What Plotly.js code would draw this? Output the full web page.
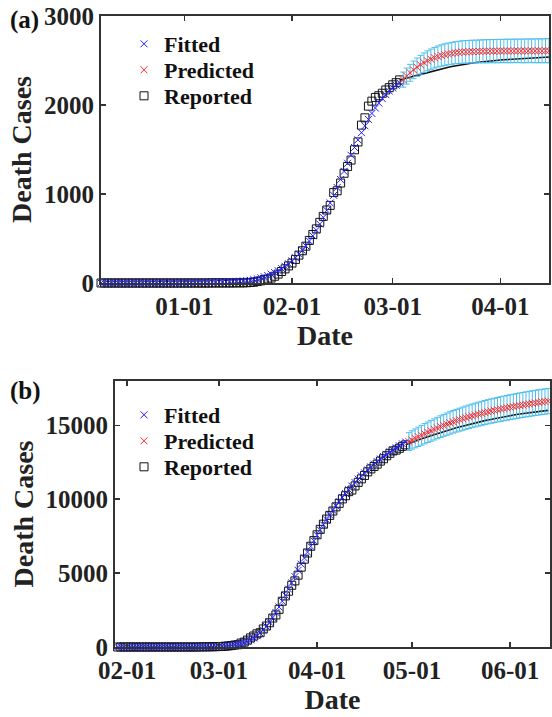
<!DOCTYPE html>
<html>
<head>
<meta charset="utf-8">
<script src="https://cdn.plot.ly/plotly-3.0.1.min.js"></script>
<style>
  html, body { margin: 0; padding: 0; background: #fff; }
  #chart { width: 552px; height: 717px; }
</style>
</head>
<body>
<div id="chart"></div>
<script>
// ---------- Panel (a): daily cumulative deaths ----------
const aStart = '2019-12-08';          // first day of reported / fitted series
const aPredStart = '2020-03-04';      // first day of the prediction window
const aLateStart = '2020-03-03';      // reported series after the fitting window

const aReported = [
  0,0,0,0,0,0,0,0,0,0,0,0,0,0,0,0,0,0,0,0,0,0,0,0,
  0,0,0,0,0,0,0,0,1,1,1,1,1,1,1,2,2,2,3,6,9,17,24,39,45,56,76,100,129,159,192,
  224,265,313,362,414,478,545,608,681,748,820,872,1016,1036,1123,1233,1309,1381,1497,1585,
  1774,1856,1987,2043,2085,2104,2132,2169,2195,
  2227,2251,2282
];
const aFitted = [
  0,0,0,0,0,0,0,0,0,0,1,1,1,1,1,1,1,2,2,2,2,2,2,3,
  3,3,4,4,5,5,6,7,8,9,10,11,12,14,16,18,20,23,26,
  30,38,47,58,70,84,100,118,138,161,187,216,
  248,284,324,368,417,471,530,594,663,737,816,899,985,1073,1163,1254,1345,1435,1523,1608,
  1689,1766,1838,1905,1966,2022,2072,2117,2157,
  2192,2223,2250
];
const aPredicted = [
  2285,2325,2362,2395,2425,2452,2476,2497,2515,2531,
  2545,2556,2566,2574,2581,2587,2591,2595,
  2597,2599,2600,2601,2602,2603,2604,2605,
  2605,2606,2606,2607,
  2607,2607,2608,2608,2608,2608,2609,2609,2609,2609,2609,2610,2610
];
const aPredErr = [
  85,90,95,99,103,106,109,112,114,116,
  118,120,121,122,123,124,125,126,127,127,
  128,128,129,129,130,130,130,131,131,131,
  132,132,132,132,133,133,133,133,134,134,
  134,135,135
];
const aReportedLate = [
  2282,2290,2300,2311,2322,2333,2344,2355,2366,2377,
  2387,2397,2406,2415,2424,2432,2440,2447,2454,
  2460,2466,2472,2477,2482,2487,2491,2495,2499,2502,
  2505,2508,2511,2514,2517,2520,2522,2524,2526,2528,2530,2532,2534,2536,2538
];
const aTickDates = ['2020-01-01','2020-02-01','2020-03-01','2020-04-01'];
const aTickText = ['01-01','02-01','03-01','04-01'];
const aYTicks = [0, 1000, 2000, 3000];
const aYTickText = ['0', '1000', '2000', '3000'];

// ---------- Panel (b) ----------
const bStart = '2020-01-28';
const bPredStart = '2020-04-30';
const bLateStart = '2020-04-29';

const bReported = [
  0,0,0,0,0,0,0,0,0,0,0,0,0,0,0,0,0,0,0,0,0,0,0,0,0,0,
  3,6,9,9,14,17,23,
  31,38,55,73,98,135,154,267,333,468,617,744,890,966,1218,1420,1640,1959,2168,2549,
  3095,3456,3776,4178,4474,4861,5402,5944,6360,6818,7199,
  7593,7960,8311,8656,8905,9202,9484,9722,10022,10238,10511,10621,10901,11142,11377,
  11608,11851,12050,12213,12376,12579,12740,12940,13106,13269,13325,13449,13575,13679
];
const bFitted = [
  0,0,0,0,0,0,0,0,0,0,0,0,1,1,1,1,2,2,2,3,3,4,5,5,6,7,
  9,11,13,16,20,25,31,
  40,52,67,87,112,145,186,238,303,385,487,612,762,
  942,1152,1397,1677,1992,2337,2707,3097,3502,3917,4339,4764,5189,5609,6019,6419,6809,7189,
  7559,7919,8269,8607,8933,9247,9549,9839,10118,10386,10643,10890,11127,11355,11574,
  11784,11986,12180,12366,12545,12717,12882,13040,13192,13338,13478,13613,13743,13868
];
const bPredicted = [
  13900,14010,14118,14224,14328,14430,14530,14628,14724,14818,14910,
  14998,15082,15162,15239,15313,15384,15452,15517,15580,15641,
  15700,15757,15812,15865,15916,15965,16012,16057,16101,16144,16186,
  16227,16267,16306,16344,16381,16417,16452,16486,16519,16551,16582,16612,16641
];
const bPredErr = [
  600,620,640,655,670,685,695,705,715,725,
  733,741,749,756,763,770,776,782,788,793,
  798,803,807,811,815,819,822,825,828,831,
  834,837,839,841,843,845,847,849,850,851,
  852,853,854,855,856
];
const bReportedLate = [
  13679,13772,13860,13938,14015,14090,14164,14237,14308,14378,14447,14514,
  14580,14645,14708,14770,14831,14890,14948,15005,15060,15114,15167,
  15218,15268,15317,15364,15410,15455,15498,15540,15581,15620,
  15658,15695,15730,15764,15797,15828,15858,15887,15914,15940,15965,15989,16012
];
const bTickDates = ['2020-02-01','2020-03-01','2020-04-01','2020-05-01','2020-06-01'];
const bTickText = ['02-01','03-01','04-01','05-01','06-01'];
const bYTicks = [0, 5000, 10000, 15000];
const bYTickText = ['0', '5000', '10000', '15000'];

// ---------- helpers ----------
function dayRange(start, n) {
  const t0 = Date.parse(start + 'T00:00:00Z');
  const out = [];
  for (let i = 0; i < n; i++) out.push(new Date(t0 + i * 864e5).toISOString().slice(0, 10));
  return out;
}

const FONT = 'Liberation Serif, Times New Roman, serif';
const BLUE = '#1f1fff';
const RED = '#ff2a2a';
const CYAN = '#4dbeee';

// each legend entry lives in its own legend box so rows can be spaced freely
function panelTraces(suffix, legendIds, start, reported, fitted, predStart, predicted, predErr, lateStart, late) {
  const xa = 'x' + suffix, ya = 'y' + suffix;
  return [
    {
      type: 'scatter', mode: 'markers', name: 'Reported', legend: legendIds[2],
      x: dayRange(start, reported.length), y: reported, xaxis: xa, yaxis: ya, cliponaxis: false,
      marker: { symbol: 'square-open', size: 8, color: '#111', line: { width: 1, color: '#111' } }
    },
    {
      type: 'scatter', mode: 'lines', showlegend: false, legend: legendIds[2],
      x: dayRange(lateStart, late.length), y: late, xaxis: xa, yaxis: ya,
      line: { color: '#111', width: 1.6 }
    },
    {
      type: 'scatter', mode: 'markers', name: 'Fitted', legend: legendIds[0],
      x: dayRange(start, fitted.length), y: fitted, xaxis: xa, yaxis: ya, cliponaxis: false,
      marker: { symbol: 'x-thin-open', size: 7, color: BLUE, line: { width: 1, color: BLUE } }
    },
    {
      type: 'scatter', mode: 'markers', name: 'Predicted', legend: legendIds[1],
      x: dayRange(predStart, predicted.length), y: predicted, xaxis: xa, yaxis: ya,
      marker: { symbol: 'x-thin-open', size: 7, color: RED, line: { width: 1, color: RED } },
      error_y: { type: 'data', array: predErr, visible: true, color: CYAN, thickness: 1, width: 3 }
    }
  ];
}

const traces = [].concat(
  panelTraces('', ['legend', 'legend2', 'legend3'], aStart, aReported, aFitted, aPredStart, aPredicted, aPredErr, aLateStart, aReportedLate),
  panelTraces('2', ['legend4', 'legend5', 'legend6'], bStart, bReported, bFitted, bPredStart, bPredicted, bPredErr, bLateStart, bReportedLate)
);

const W = 552, H = 717;
const px = v => v / W;
const py = v => 1 - v / H;

function xAxis(anchor, domain, range, tickvals, ticktext) {
  return {
    anchor: anchor, domain: domain, range: range, type: 'date',
    tickmode: 'array', tickvals: tickvals, ticktext: ticktext,
    ticks: 'inside', ticklen: 5, tickwidth: 1.5, tickcolor: '#333',
    showline: true, linecolor: '#333', linewidth: 2, mirror: 'ticks',
    showgrid: false, zeroline: false,
    tickfont: { family: FONT, size: 25, color: '#222', weight: 'bold' },
    title: { text: 'Date', font: { family: FONT, size: 28, color: '#222', weight: 'bold' }, standoff: 4 }
  };
}
function yAxis(anchor, domain, range, tickvals, ticktext) {
  return {
    anchor: anchor, domain: domain, range: range,
    tickmode: 'array', tickvals: tickvals, ticktext: ticktext,
    ticks: 'inside', ticklen: 5, tickwidth: 1.5, tickcolor: '#333',
    showline: true, linecolor: '#333', linewidth: 2, mirror: 'ticks',
    showgrid: false, zeroline: false,
    tickfont: { family: FONT, size: 25, color: '#222', weight: 'bold' },
    title: { text: 'Death Cases', font: { family: FONT, size: 28, color: '#222', weight: 'bold' }, standoff: 4 }
  };
}

const legendFont = { family: FONT, size: 22, color: '#111', weight: 'bold' };
function legendAt(top) {
  return {
    x: px(124), y: py(top), xanchor: 'left', yanchor: 'middle',
    bgcolor: 'rgba(0,0,0,0)', borderwidth: 0, font: legendFont, itemwidth: 30
  };
}

const layout = {
  width: W, height: H,
  margin: { l: 0, r: 0, t: 0, b: 0 },
  paper_bgcolor: '#fff', plot_bgcolor: '#fff',
  font: { family: FONT, color: '#222' },
  showlegend: true,
  xaxis: xAxis('y', [px(101), px(549)], ['2019-12-08', '2020-04-15'], aTickDates, aTickText),
  yaxis: yAxis('x', [py(283), py(16)], [0, 3000], aYTicks, aYTickText),
  xaxis2: xAxis('y2', [px(115), px(550)], ['2020-01-28 04:00', '2020-06-13 14:00'], bTickDates, bTickText),
  yaxis2: yAxis('x2', [py(647), py(381)], [0, 18000], bYTicks, bYTickText),
  legend: legendAt(44),
  legend2: legendAt(70),
  legend3: legendAt(96),
  legend4: legendAt(415),
  legend5: legendAt(441),
  legend6: legendAt(467),
  annotations: [
    { text: '(a)', xref: 'paper', yref: 'paper', x: px(8), y: py(20), xanchor: 'left', yanchor: 'middle',
      showarrow: false, font: { family: FONT, size: 25, color: '#111', weight: 'bold' } },
    { text: '(b)', xref: 'paper', yref: 'paper', x: px(8), y: py(391), xanchor: 'left', yanchor: 'middle',
      showarrow: false, font: { family: FONT, size: 25, color: '#111', weight: 'bold' } }
  ]
};

Plotly.newPlot('chart', traces, layout, { displayModeBar: false, staticPlot: true });
</script>
</body>
</html>
